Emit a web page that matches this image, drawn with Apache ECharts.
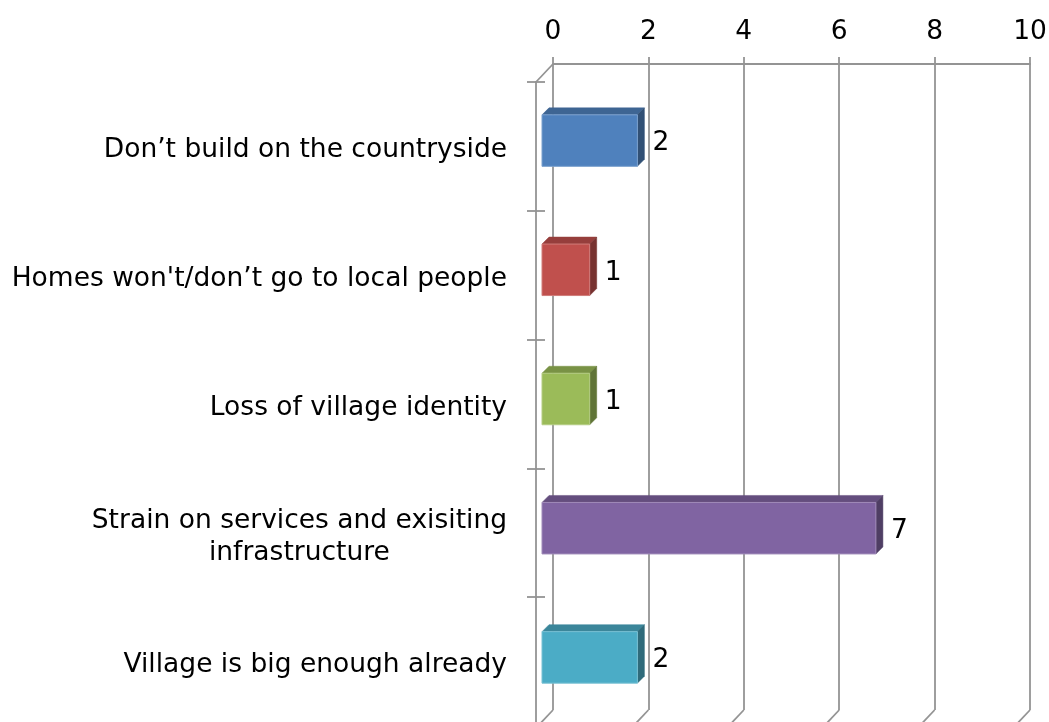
<!DOCTYPE html>
<html>
<head>
<meta charset="utf-8">
<script src="https://cdn.jsdelivr.net/npm/echarts@6/dist/echarts.min.js"></script>
<style>html,body{margin:0;padding:0;background:#fff;}#chart{width:1049px;height:722px;}</style>
</head>
<body>
<div id="chart"></div>
<script>
const categories = ["Don\u2019t build on the countryside", "Homes won't/don\u2019t go to local people", "Loss of village identity", "Strain on services and exisiting\ninfrastructure", "Village is big enough already"];
const values = [2, 1, 1, 7, 2];
const barColors = ['#4F81BD', '#C0504D', '#9BBB59', '#8064A2', '#4BACC6'];
const xTicks = [0, 2, 4, 6, 8, 10];

const FONT = '"DejaVu Sans", sans-serif';
const FS = 26.5;
const GRID_COLOR = '#949494';
const LW = 1.8;

function shade(hex, f) {
  const n = parseInt(hex.slice(1), 16);
  const r = Math.round(((n >> 16) & 255) * f), g = Math.round(((n >> 8) & 255) * f), b = Math.round((n & 255) * f);
  return 'rgb(' + r + ',' + g + ',' + b + ')';
}
function lighten(hex, f) {
  const n = parseInt(hex.slice(1), 16);
  const c = [(n >> 16) & 255, (n >> 8) & 255, n & 255].map(v => Math.round(v + (255 - v) * f));
  return 'rgb(' + c.join(',') + ')';
}

const chart = echarts.init(document.getElementById('chart'), null, {renderer: 'canvas'});
const depthX = -17, depthY = 18;

chart.setOption({
  animation: false,
  grid: [
    {left: 553, top: 64, right: 19, bottom: 12, outerBoundsMode: 'none', containLabel: false},
    {left: 536, top: 82, right: 36, bottom: -4, outerBoundsMode: 'none', containLabel: false},
    {left: 542, top: 76, right: 30, bottom: 0, outerBoundsMode: 'none', containLabel: false},
    {left: 536, top: 86, right: 36, bottom: -8, outerBoundsMode: 'none', containLabel: false}
  ],
  xAxis: [
    {gridIndex: 0, type: 'value', position: 'top', min: 0, max: 10, interval: 2,
     axisLine: {show: true, lineStyle: {color: GRID_COLOR, width: LW}},
     axisTick: {show: true, length: 7, lineStyle: {color: GRID_COLOR, width: LW}},
     axisLabel: {fontFamily: FONT, fontSize: FS, color: '#000', margin: 18},
     splitLine: {show: true, lineStyle: {color: GRID_COLOR, width: LW}}},
    {gridIndex: 1, type: 'value', min: 0, max: 10, show: false},
    {gridIndex: 2, type: 'value', min: 0, max: 10, show: false},
    {gridIndex: 3, type: 'value', min: 0, max: 10, show: false}
  ],
  yAxis: [
    {gridIndex: 0, type: 'value', min: 0, max: 1, inverse: true, show: false},
    {gridIndex: 1, type: 'category', data: categories, inverse: true, position: 'left',
     axisLine: {show: true, lineStyle: {color: GRID_COLOR, width: LW}},
     axisTick: {show: true, length: 9, lineStyle: {color: GRID_COLOR, width: LW}},
     axisLabel: {show: false},
     splitLine: {show: false}},
    {gridIndex: 1, type: 'category', data: categories, inverse: true, position: 'left',
     axisLine: {show: false},
     axisTick: {show: true, inside: true, length: 9, lineStyle: {color: GRID_COLOR, width: LW}},
     axisLabel: {show: false}, splitLine: {show: false}},
    {gridIndex: 2, type: 'category', data: categories, inverse: true, show: false},
    {gridIndex: 3, type: 'category', data: categories, inverse: true, position: 'left',
     axisLine: {show: false}, axisTick: {show: false}, splitLine: {show: false},
     axisLabel: {fontFamily: FONT, fontSize: FS, color: '#000', margin: 29, lineHeight: 32, align: 'right',
       formatter: function (v) { return v.split('\n').map(l => '{c|' + l + '}').join('\n'); },
       rich: {c: {align: 'center', fontFamily: FONT, fontSize: FS, lineHeight: 32, color: '#000'}}}}
  ],
  series: [
    {
      type: 'custom', xAxisIndex: 0, yAxisIndex: 0, silent: true,
      data: xTicks.map(v => [v]),
      encode: {x: 0},
      renderItem: function (params, api) {
        const v = api.value(0);
        const b = api.coord([v, 1]);
        const children = [{
          type: 'line',
          shape: {x1: b[0], y1: b[1], x2: b[0] + depthX, y2: b[1] + depthY},
          style: {stroke: GRID_COLOR, lineWidth: LW}
        }];
        if (params.dataIndex === 0) {
          const t = api.coord([v, 0]);
          children.push({
            type: 'line',
            shape: {x1: t[0], y1: t[1], x2: t[0] + depthX, y2: t[1] + depthY},
            style: {stroke: GRID_COLOR, lineWidth: LW}
          });
        }
        return {type: 'group', children: children};
      },
      clip: false
    },
    {
      type: 'custom', xAxisIndex: 2, yAxisIndex: 3, silent: true,
      data: values.map((v, i) => [i, v]),
      encode: {x: 1, y: 0},
      renderItem: function (params, api) {
        const i = params.dataIndex;
        const v = api.value(1);
        const p0 = api.coord([0, i]);
        const p1 = api.coord([v, i]);
        const h = 51.5, d = 7;
        const x0 = p0[0], x1 = p1[0], yc = p0[1];
        const top = yc - h / 2, bot = yc + h / 2;
        const col = barColors[i];
        return {
          type: 'group',
          children: [
            {type: 'polygon', shape: {points: [[x0, top], [x0 + d, top - d], [x1 + d, top - d], [x1, top]]},
             style: {fill: shade(col, 0.78), stroke: shade(col, 0.78), lineWidth: 0.5}},
            {type: 'polygon', shape: {points: [[x1, top], [x1 + d, top - d], [x1 + d, bot - d], [x1, bot]]},
             style: {fill: shade(col, 0.62), stroke: shade(col, 0.62), lineWidth: 0.5}},
            {type: 'rect', shape: {x: x0, y: top, width: x1 - x0, height: h},
             style: {fill: col, stroke: lighten(col, 0.25), lineWidth: 1}},
            {type: 'text', style: {text: String(v), x: x1 + d + 8, y: yc + 3, fill: '#000',
             fontFamily: FONT, fontSize: FS, align: 'left', verticalAlign: 'middle'}}
          ]
        };
      },
      clip: false
    }
  ]
});
</script>
</body>
</html>
